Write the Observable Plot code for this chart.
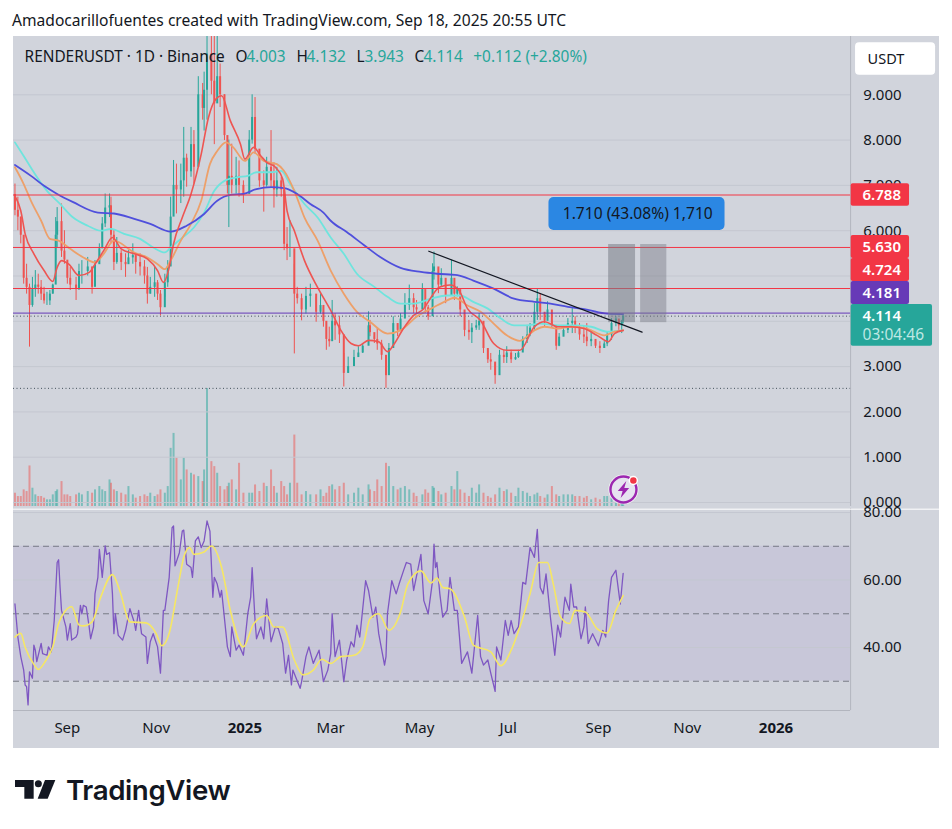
<!DOCTYPE html>
<html><head><meta charset="utf-8">
<script src="https://cdn.jsdelivr.net/npm/d3@7"></script>
<script src="https://cdn.jsdelivr.net/npm/@observablehq/plot@0.6"></script>
<style>
html,body{margin:0;padding:0;background:#fff;width:952px;height:829px;overflow:hidden;font-family:"Noto Sans",sans-serif}
#title{position:absolute;left:12px;top:10px;font-size:15.6px;line-height:20px;color:#131722;white-space:nowrap}
#pane{position:absolute;left:13px;top:36px;width:926px;height:712px;background:#d1d4dc}
.layer{position:absolute;left:0}
.layer svg{display:block;background:transparent;overflow:visible}
#brand{position:absolute;left:15px;top:771px;height:38px;display:flex;align-items:center;gap:10px;color:#131722}
#brand span{font-family:Inter,"Noto Sans",sans-serif;font-weight:600;font-size:27.7px;letter-spacing:-.4px;line-height:38px}
</style></head><body>
<div id="title">Amadocarillofuentes created with TradingView.com, Sep 18, 2025 20:55 UTC</div>
<div id="pane"></div>
<div class="layer" id="volLayer" style="top:306px"></div>
<div class="layer" id="priceLayer" style="top:36px"></div>
<div class="layer" id="rsiLayer" style="top:508px"></div>
<div id="brand"><svg width="41" height="20" viewBox="47 57 123 60"><path fill="#131722" d="M47 57H103V113H75V78H47Z"/><circle fill="#131722" cx="117" cy="68" r="10.5"/><path fill="#131722" d="M137 57H168L145 113H115Z"/></svg><span>TradingView</span></div>
<script>
// day offsets from 26 Jul 2024
const start = Date.UTC(2024, 6, 26);
const dayDate = d => new Date(start + d * 864e5);

const days = [1,3,5,7,9,11,13,15,17,19,
21,23,25,27,29,30,33,35,37,39,
43,45,47,51,54,56,59,61,63,66,
67,69,71,74,77,79,82,84,87,90,
92,94,97,99,101,104,106,108,110,112,
115,117,119,122,124,127,130,131,133,136,
138,140,142,145,147,148,150,153,155,158,
162,164,166,169,172,174,177,179,181,184,
186,188,190,193,195,198,201,204,208,211,
213,215,217,
219,221,224,227,230,234,237,240,244,245,
248,250,253,256,258,261,264,266,269,272,
275,277,281,283,285,288,289,292,294,297,
301,303,305,307,310,313,315,318,320,323,
326,328,331,334,337,339,342,345,347,350,
353,355,358,360,362,365,367,370,373,375,
378,381,384,386,389,392,394,397,400,403,
406,408,411,414,416,418,419];

const highs = [7.03,6.74,6.3,5.71,5.26,4.82,4.97,5.12,5.04,4.9,
4.75,4.64,4.68,4.82,6.29,6.51,6.59,6.0,5.26,5.19,
4.97,5.26,5.34,5.41,5.04,5.34,5.71,6.29,6.81,6.81,
6.74,6.0,5.85,5.56,5.49,5.56,5.71,5.49,5.49,5.34,
5.19,4.97,5.19,4.9,4.68,5.04,5.34,6.74,7.55,7.47,
7.47,8.28,7.69,8.28,8.21,9.4,9.25,9.5,10.6,10.6,
10.4,10.4,9.68,9.0,8.0,8.0,7.91,7.62,7.54,7.1,
8.21,9.0,8.94,7.69,7.32,7.62,8.21,7.5,7.4,7.18,
6.96,6.07,6.22,5.26,4.75,4.6,4.75,4.82,4.53,4.6,
4.31,3.87,3.87,
4.46,4.17,4.1,3.29,3.21,3.36,3.44,3.51,4.21,4.02,
3.66,3.84,3.58,3.21,3.51,4.1,3.95,4.17,4.61,4.8,
4.61,4.46,4.83,4.46,4.35,5.27,5.53,5.16,5.16,4.76,
5.35,4.83,4.76,4.54,4.02,4.02,3.95,4.02,4.17,3.58,
3.36,3.29,3.07,3.36,3.36,3.44,3.36,3.29,3.36,3.66,
3.91,3.95,4.39,4.72,4.61,4.17,4.43,4.02,3.73,3.73,
3.88,4.06,4.28,4.1,3.95,3.88,3.95,3.8,3.58,3.55,
3.55,3.77,4.06,4.1,4.02,4.02,4.132];

const lows = [6.33,6.0,5.71,4.82,4.6,3.43,4.31,4.53,4.6,4.46,
4.38,4.35,4.35,4.6,5.34,5.63,5.41,5.26,4.82,4.68,
4.46,4.68,4.82,5.0,4.6,5.12,5.26,5.71,6.07,6.29,
5.71,5.12,5.26,5.12,4.97,5.26,5.26,5.04,5.0,4.82,
4.38,4.6,4.53,4.46,4.12,4.53,4.75,5.34,6.44,6.37,
6.6,6.74,6.96,7.18,7.03,8.2,8.44,8.2,8.44,9.0,
7.9,9.0,8.72,7.99,6.81,6.07,6.81,6.81,6.74,6.6,
7.4,7.91,7.69,6.96,6.41,6.96,6.96,6.5,6.74,6.74,
5.56,5.34,5.41,3.28,4.38,4.01,4.16,4.31,3.98,4.16,
3.87,3.36,3.43,
3.8,3.58,3.51,2.55,2.85,3.07,3.21,3.29,3.66,3.66,
3.51,3.36,3.14,2.52,2.92,3.66,3.66,3.8,4.17,4.24,
4.17,4.17,4.39,4.17,4.02,4.76,4.91,4.61,4.76,4.39,
4.76,4.46,4.54,4.1,3.66,3.58,3.51,3.8,3.8,3.29,
3.07,2.92,2.61,2.92,3.07,3.07,3.07,3.14,3.18,3.36,
3.51,3.66,3.8,4.02,4.02,3.88,4.02,3.84,3.36,3.44,
3.66,3.73,3.73,3.73,3.58,3.51,3.44,3.44,3.4,3.29,
3.4,3.44,3.58,3.88,3.8,3.73,3.943];

const closes = [6.45,6.3,5.9,4.95,4.75,4.35,4.7,4.8,4.75,4.6,
4.45,4.45,4.6,4.8,5.9,6.2,5.55,5.35,4.95,4.8,
4.7,5.1,5.1,5.2,4.75,5.25,5.6,6.15,6.5,6.55,
5.9,5.3,5.5,5.3,5.25,5.4,5.45,5.3,5.2,5.0,
4.6,4.75,4.85,4.6,4.3,4.85,5.2,6.3,7.0,6.9,
7.1,7.6,7.3,7.9,7.4,9.0,8.7,9.1,9.9,9.3,
8.8,9.4,9.0,8.1,7.0,7.2,7.0,7.2,7.0,6.8,
8.0,8.5,7.8,7.1,7.0,7.4,7.1,6.9,7.1,6.9,
5.7,5.6,5.6,4.6,4.5,4.25,4.55,4.6,4.2,4.35,
4.0,3.6,3.55,
4.0,3.9,3.7,2.85,3.0,3.2,3.3,3.45,3.9,3.75,
3.6,3.5,3.25,2.8,3.4,3.95,3.8,4.05,4.35,4.5,
4.3,4.25,4.7,4.3,4.1,5.1,5.2,4.8,4.95,4.55,
4.95,4.6,4.7,4.25,3.8,3.75,3.85,3.9,4.0,3.4,
3.15,3.1,2.8,3.25,3.2,3.3,3.15,3.2,3.3,3.6,
3.7,3.85,4.2,4.5,4.2,4.0,4.25,3.9,3.45,3.65,
3.8,3.95,4.0,3.85,3.7,3.65,3.55,3.6,3.45,3.4,
3.5,3.7,3.95,4.05,3.9,4.0,4.114];

// volume in tenths of a million, estimated
const volumes = [40,30,30,50,45,122,55,35,30,30,
25,20,20,35,45,50,75,35,35,30,
35,40,35,45,40,50,60,50,45,80,
70,50,45,40,35,60,35,25,30,35,
30,40,30,35,50,40,60,175,220,145,
80,145,110,100,95,90,75,110,355,135,
120,100,60,50,60,70,80,50,130,40,
40,40,65,45,70,60,110,60,40,75,
60,35,70,215,70,35,45,35,35,50,
30,40,60,
65,50,60,70,35,40,55,35,65,50,
45,80,60,130,120,60,50,55,60,50,
40,30,35,50,40,60,55,45,35,40,
60,50,105,50,40,30,55,40,65,40,
30,25,35,55,45,50,40,30,55,45,
40,30,35,40,30,25,35,60,35,30,
35,35,35,30,30,25,30,20,25,20,
30,30,25,20,15,10,8];

const redDays = [1,5,8,14,21,27,30,33,38,45,52,56,62,68,74,83,92,99,103,107,110,116,122,129,134,139,143,149,156,159,165,170,174,180,185,188,193,200,209,218,225,232,237,244,251,257,261,268,275,282,285,293,300,306,312,321,330,339,348,358,365,374,383,392,401,409,413,419];
const redVals = [6.77,6.44,5.93,5.49,5.12,4.88,5.19,5.34,5.26,5.01,5.08,5.26,5.56,5.85,5.6,5.49,5.38,5.12,4.86,5.19,5.71,6.29,6.81,7.69,8.5,8.9,8.98,8.43,7.91,7.58,7.84,7.65,7.51,7.4,7.14,6.44,6.0,5.34,4.75,4.24,3.8,3.51,3.46,3.58,3.55,3.33,3.47,3.84,4.13,4.28,4.43,4.76,4.8,4.69,4.28,4.02,3.51,3.36,3.36,3.88,3.99,3.88,3.88,3.84,3.69,3.55,3.73,3.8];

const orangeDays = [1,7,12,19,25,31,39,48,56,62,69,83,92,99,104,108,115,122,129,135,140,146,151,159,165,172,181,186,193,200,209,218,227,236,245,257,266,277,287,296,303,312,321,330,339,348,358,365,374,383,394,406,413,419];
const orangeVals = [7.4,7.03,6.66,6.22,5.82,5.78,5.6,5.41,5.3,5.49,5.78,5.52,5.41,5.26,5.15,5.34,5.78,6.15,6.66,7.47,7.76,7.95,7.84,7.54,7.73,7.54,7.47,7.32,6.88,6.29,5.78,5.12,4.61,4.21,3.99,3.73,3.8,4.1,4.28,4.43,4.52,4.35,4.21,3.95,3.69,3.57,3.8,3.88,3.84,3.88,3.84,3.69,3.77,3.8];

const cyanDays = [1,7,14,23,32,41,51,60,67,76,87,96,104,108,115,124,131,138,145,154,161,167,177,184,190,200,209,218,227,236,248,257,266,275,287,298,307,316,326,335,344,353,362,374,385,397,408,419];
const cyanVals = [7.95,7.65,7.29,6.88,6.59,6.29,6.11,6.0,6.04,5.93,5.82,5.63,5.52,5.63,5.82,6.07,6.4,6.88,7.1,7.18,7.21,7.29,7.29,7.32,7.03,6.59,6.29,5.85,5.49,5.05,4.76,4.54,4.39,4.39,4.5,4.57,4.57,4.43,4.28,4.06,3.91,3.91,3.95,3.91,3.91,3.88,3.77,3.8];

const blueDays = [1,12,21,30,41,58,69,83,94,108,119,131,140,149,158,167,177,186,195,204,213,218,229,241,252,266,280,291,305,316,330,344,358,369,381,394,408,419];
const blueVals = [7.45,7.21,6.99,6.81,6.63,6.4,6.38,6.26,6.15,5.98,6.11,6.37,6.66,6.79,6.81,6.92,6.96,6.94,6.81,6.59,6.4,6.22,5.97,5.68,5.42,5.18,5.09,5.05,5.02,4.9,4.72,4.5,4.43,4.39,4.32,4.26,4.17,4.16];

const rsiDays = [1,3,5,7,8,9,10,11,13,14,15,16,19,20,23,24,26,28,30,31,32,33,36,37,39,40,43,44,46,47,48,50,52,53,55,56,58,59,61,63,64,66,68,69,70,72,75,77,80,83,84,86,88,91,92,94,96,99,101,103,104,107,109,110,111,114,116,117,119,122,123,125,127,129,131,133,135,137,138,140,142,143,147,149,150,153,155,158,161,163,164,166,167,170,172,174,177,180,182,185,187,189,191,192,197,198,201,203,206,210,213,216,218,
219,221,224,227,229,232,234,236,238,242,244,247,249,251,255,256,257,260,263,265,268,270,273,275,280,282,285,288,289,290,291,293,295,298,300,303,305,308,312,315,319,321,323,326,328,331,332,335,338,340,342,344,347,350,352,355,358,360,362,364,366,369,372,374,376,379,382,383,385,387,390,392,393,395,398,402,405,407,409,411,414,417,419];
const rsiVals = [52.9,43.1,37.3,33.3,28.9,28.4,23,32.8,30.9,40.7,39.2,35.8,41.2,38.2,37.7,40.2,38.7,48,65.2,66,57.8,51,46.1,42.2,47.1,42.2,43.1,44.1,52.5,50,52.5,52,46.1,42.6,46.1,55.9,60.8,69.1,60.8,70.1,67.6,68.1,55.9,44.1,50,43.6,42.2,45.1,51.5,47.5,45.1,51,44.1,43.1,35.3,41.7,44.1,40.2,32.4,51,51,60.8,75.5,76,64.2,68.1,74.5,74.8,64.7,63.7,60.8,71.6,72.8,69.6,71.6,77.5,74.5,54.9,60.8,58.8,54.9,56.9,40.2,37.3,46.1,39.2,40.7,37.7,50,54.9,63.7,48,42.6,46.1,42.6,54.4,41.7,46.1,45.6,41.2,32.4,37.7,28.9,33.3,27.9,29.9,37.3,40.2,35.3,39.2,29.9,33.3,38.2,
50,37.3,42.2,29.9,36.3,41.7,40.2,46.6,43.1,59.8,56.9,49,52,44.1,34.8,37.3,50,59.8,55.9,58.8,62.7,65.2,64.7,56.9,67.6,53.9,50,59.8,70.6,63.7,65.2,55.9,49,51,60.8,51,51,35.3,38.7,32.4,49.5,37.3,34.8,36.3,32.4,27,40.2,36.3,48,43.6,48,44.1,46.1,59.3,58.8,69.6,66.7,75,57.8,55.9,61.8,49,37.7,46.6,43.1,54.9,51,58.8,52,52,42.6,46.1,52,41.2,44.1,40.5,45.1,43.1,53.9,60.8,62.9,52.9,62];

const rsiMaDays = [1,5,8,14,17,22,27,31,35,40,45,48,54,60,68,73,80,91,98,102,107,113,117,121,124,131,136,143,149,158,165,174,179,185,193,199,206,212,218,225,234,240,245,251,258,266,271,280,287,291,295,300,310,316,328,335,342,348,355,361,367,371,376,382,386,393,401,408,414,419];
const rsiMaVals = [43.1,44.2,40.1,35,33.5,36,40.2,47.1,50.5,52.1,46.7,46.4,47.6,55,61.6,56.9,47.6,47.3,44.2,40.5,44.2,57.9,66.7,69.6,67.6,68.3,70.1,63.8,51,40.2,47,49.5,46.1,46.1,36.3,31.9,33.3,36.5,35.3,37.3,37.7,40.2,48.5,50,45.1,50.5,58.8,62.7,59.1,60.6,57.8,57.4,49,40.7,38.7,34.6,39.2,46.1,55.9,65.2,65.2,58.8,49,47.1,51,50.5,45.6,44.3,51,55.4];

const priceTicks = [0,1,2,3,4,5,6,7,8,9];
const rsiTicks = [80,60,40];
const rsiDashed = [70,50,30];
const monthTicks = [37,98,218,279,340,402,463], monthNames = ["Sep","Nov","Mar","May","Jul","Sep","Nov"];
const yearTicks = [159,524], yearNames = ["2025","2026"];

const redLevels = [6.788,5.63,4.724];
const purpleLevel = [4.181];
const dottedLevels = [4.114,2.52];
const trendDays = [285.4,432], trendVals = [5.547,3.76];
const rangeDays1 = [409,427.5], rangeDays2 = [431,449], rangeVals = [3.97,5.695];

const tagLabels = ["6.788","5.630","4.724","4.181"];
const tagColors = ["#f23645","#f23645","#f23645","#673ab7"];
const tagTops = [7.035,5.894,5.386,4.879], tagBottoms = [6.541,5.386,4.879,4.371];
const legendTexts = ["RENDERUSDT · 1D · Binance","O","4.003","H","4.132","L","3.943","C","4.114","+0.112 (+2.80%)"];
const legendDays = [7.6,152.6,160,194.5,201.4,235.7,241.2,275.6,281.8,316];
const legendColors = ["#131722","#131722","#26a69a","#131722","#26a69a","#131722","#26a69a","#131722","#26a69a","#26a69a"];

const UP="#26a69a", DOWN="#ef5350", INK="#131722", GRID="#c4c7d0", SEP="#b2b5be", LAST=575.3, MAXDAY=636.4;
const font = {fontFamily:"'Noto Sans',sans-serif",background:"transparent",overflow:"visible"};
const candles = days.map((d,i)=>({date:dayDate(d),high:highs[i],low:lows[i],close:closes[i],open:i?closes[i-1]:6.8,vol:volumes[i]/10}));
const color = d=>d.close>=d.open?UP:DOWN;
const series = (ds,vs)=>ds.map((d,i)=>({date:dayDate(d),v:vs[i]}));
const base = {width:952,marginLeft:13,marginRight:13,marginTop:0,marginBottom:0,style:font};
const xScale = {type:"utc",domain:[dayDate(0),dayDate(MAXDAY)],axis:null};
const one = [0];
const bolt = {draw(c,s){const k=Math.sqrt(s)/10;
  [[2,-6],[-4,1],[-.6,1],[-2,6],[4,-1],[.6,-1]].forEach(([x,y],i)=>i?c.lineTo(x*k,y*k):c.moveTo(x*k,y*k));c.closePath();}};

// volume layer
document.getElementById("volLayer").append(Plot.plot({...base,height:200,x:xScale,
  y:{domain:[0,60.2],axis:null},
  marks:[Plot.ruleX(candles,{x:"date",y1:0,y2:"vol",stroke:color,strokeWidth:2,strokeOpacity:.5})]}));

// price layer
const ma = (ds,vs,stroke,w=1.6)=>Plot.line(series(ds,vs),{x:"date",y:"v",stroke,strokeWidth:w,curve:"monotone-x",clip:true});
document.getElementById("priceLayer").append(Plot.plot({...base,height:470,x:xScale,
  y:{domain:[-0.088,10.287],axis:null},
  marks:[
    Plot.ruleY(priceTicks,{x1:dayDate(0),x2:dayDate(LAST),stroke:GRID,strokeWidth:1}),
    Plot.ruleX([dayDate(LAST)],{stroke:SEP}),
    Plot.ruleY(dottedLevels,{x1:dayDate(0),x2:dayDate(LAST),stroke:"#43505a",strokeWidth:1,strokeDasharray:"1,2.5"}),
    Plot.ruleX(candles,{x:"date",y1:"low",y2:"high",stroke:color,strokeWidth:1,clip:true}),
    Plot.ruleX(candles,{x:"date",y1:"open",y2:"close",stroke:color,strokeWidth:2,clip:true}),
    ma(cyanDays,cyanVals,"#6fe4dd",1.8),
    ma(orangeDays,orangeVals,"#eda06a",1.8),
    ma(blueDays,blueVals,"#4f4fdc",1.8),
    ma(redDays,redVals,"#ee5552"),
    Plot.ruleY(redLevels,{x1:dayDate(0),x2:dayDate(LAST),stroke:"#f23645",strokeWidth:1}),
    Plot.ruleY(purpleLevel,{x1:dayDate(0),x2:dayDate(LAST),stroke:"#673ab7",strokeWidth:1}),
    Plot.rect(one,{x1:dayDate(rangeDays1[0]),x2:dayDate(rangeDays1[1]),y1:rangeVals[0],y2:rangeVals[1],fill:"#787b86",fillOpacity:.55}),
    Plot.rect(one,{x1:dayDate(rangeDays2[0]),x2:dayDate(rangeDays2[1]),y1:rangeVals[0],y2:rangeVals[1],fill:"#787b86",fillOpacity:.45}),
    Plot.line(series(trendDays,trendVals),{x:"date",y:"v",stroke:"#131722",strokeWidth:1.2}),
    Plot.rect(one,{x1:dayDate(368),x2:dayDate(489),y1:6.004,y2:6.733,fill:"#2b87e3",rx:5}),
    Plot.text(["1.710 (43.08%) 1,710"],{x:dayDate(429),y:6.37,fontSize:15.6,fill:INK}),
    Plot.text(legendTexts,{x:(d,i)=>dayDate(legendDays[i]),y:9.823,fill:(d,i)=>legendColors[i],fontSize:15.4,textAnchor:"start"}),
    Plot.text(priceTicks,{x:dayDate(584),y:d=>d,text:d=>d.toFixed(3),fontSize:15,fill:INK,textAnchor:"start"}),
    Plot.rect(one,{x1:dayDate(578.7),x2:dayDate(633.7),y1:9.43,y2:10.15,fill:"#fff",rx:4}),
    Plot.text(["USDT"],{x:dayDate(587),y:9.79,fontSize:14.5,fill:INK,textAnchor:"start"}),
    Plot.rect(tagLabels,{x1:dayDate(575.7),x2:dayDate(615.8),y1:(d,i)=>tagBottoms[i],y2:(d,i)=>tagTops[i],fill:(d,i)=>tagColors[i],rx:2}),
    Plot.rect(one,{x1:dayDate(575.7),x2:dayDate(631.6),y1:3.45,y2:4.371,fill:UP,rx:2}),
    Plot.text(tagLabels,{x:dayDate(583.5),y:(d,i)=>(tagTops[i]+tagBottoms[i])/2,fontSize:15,fontWeight:600,fill:"#fff",textAnchor:"start"}),
    Plot.text(["4.114"],{x:dayDate(583.5),y:4.106,fontSize:15,fontWeight:600,fill:"#fff",textAnchor:"start"}),
    Plot.text(["03:04:46"],{x:dayDate(583.5),y:3.69,fontSize:15.5,fill:"#bfe8e4",textAnchor:"start"}),
    Plot.dot(one,{x:dayDate(419.2),y:.287,r:15,fill:"#fff",fillOpacity:.75}),
    Plot.dot(one,{x:dayDate(419.2),y:.287,r:13,fill:"#e6e3f0",stroke:"#9c27b0",strokeWidth:2.4}),
    Plot.dot(one,{x:dayDate(419.2),y:.287,r:8,symbol:bolt,fill:"#9c27b0",stroke:"none"}),
    Plot.dot(one,{x:dayDate(426),y:.486,r:4,fill:"#f23645",stroke:"#fff",strokeWidth:1.5})
  ]}));

// RSI layer
document.getElementById("rsiLayer").append(Plot.plot({...base,height:240,marginBottom:38,x:xScale,
  y:{domain:[21.33,81.2],axis:null},
  marks:[
    Plot.rect(one,{x1:dayDate(0),x2:dayDate(LAST),y1:30,y2:70,fill:"#7e57c2",fillOpacity:.1}),
    Plot.ruleY(rsiTicks,{x1:dayDate(0),x2:dayDate(LAST),stroke:GRID}),
    Plot.ruleY(rsiDashed,{x1:dayDate(0),x2:dayDate(LAST),stroke:"#787b86",strokeWidth:1,strokeDasharray:"6,4"}),
    Plot.ruleY([21.33],{x1:dayDate(0),x2:dayDate(LAST),stroke:SEP}),
    Plot.ruleX([dayDate(LAST)],{stroke:SEP}),
    Plot.ruleY([81],{stroke:"#fff",strokeWidth:1}),
    Plot.line(series(rsiDays,rsiVals),{x:"date",y:"v",stroke:"#7e57c2",strokeWidth:1.3,clip:true}),
    Plot.line(series(rsiMaDays,rsiMaVals),{x:"date",y:"v",stroke:"#f6e764",strokeWidth:1.6,curve:"monotone-x"}),
    Plot.text(rsiTicks,{x:dayDate(584),y:d=>d,text:d=>d.toFixed(2),fontSize:15,fill:INK,textAnchor:"start"}),
    Plot.axisX(monthTicks.map(dayDate),{tickSize:0,tickPadding:12,fontSize:15,fill:INK,tickFormat:(d,i)=>monthNames[i],label:null}),
    Plot.axisX(yearTicks.map(dayDate),{tickSize:0,tickPadding:12,fontSize:15,fontWeight:700,fill:INK,tickFormat:(d,i)=>yearNames[i],label:null})
  ]}));
</script>
</body></html>
